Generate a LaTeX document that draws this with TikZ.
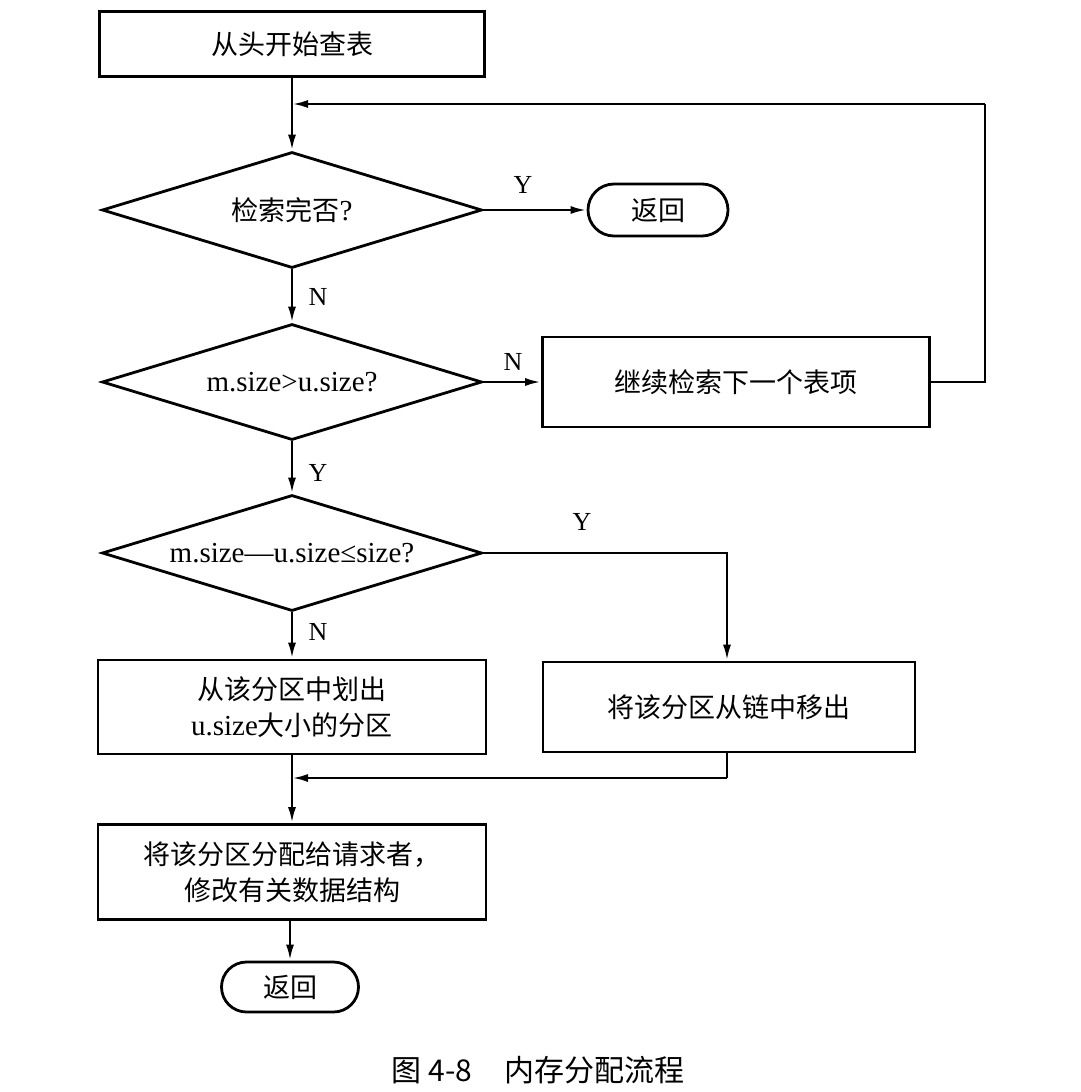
\documentclass[tikz,border=0pt]{standalone}
\usepackage{fontspec}
\setmainfont{Liberation Serif}
\newfontfamily\cjk{Noto Sans CJK SC}
\newcommand{\lat}[1]{{\fontsize{29}{34}\selectfont #1}}
\usetikzlibrary{shapes.geometric,shapes.misc,arrows.meta}
\begin{document}
\begin{tikzpicture}[x=1pt,y=-1pt,
  every node/.style={font=\fontsize{27}{36}\selectfont},
  box/.style={draw,line width=2.8pt,rectangle,align=center,inner sep=0pt},
  dia/.style={draw,line width=2.8pt,diamond,aspect=3.3,inner sep=0pt,minimum width=380pt,minimum height=116pt},
  term/.style={draw,line width=2.8pt,rounded rectangle,inner sep=0pt},
  lbl/.style={font=\fontsize{26}{30}\selectfont},
  flow/.style={line width=2.6pt,-{Latex[length=16pt,width=8pt]}},
  seg/.style={line width=2.6pt}]
\useasboundingbox (0,0) rectangle (1080,1092);
\fill[white] (0,0) rectangle (1080,1092);
\node[box,minimum width=385pt,minimum height=65pt] (start) at (292,44) {\cjk 从头开始查表};
\node[dia] (d1) at (292,210) {{\cjk 检索完否}\lat{?}};
\node[term,minimum width=140pt,minimum height=52pt] (ret1) at (658,210) {\cjk 返回};
\node[dia] (d2) at (292,382) {\lat{m.size>u.size?}};
\node[box,minimum width=387pt,minimum height=90pt] (cont) at (736,382) {\cjk 继续检索下一个表项};
\node[dia] (d3) at (292,553) {\lat{m.size—u.size≤size?}};
\node[box,minimum width=388pt,minimum height=94pt] (cut) at (292,707) {{\cjk 从该分区中划出}\\\lat{u.size}{\cjk 大小的分区}};
\node[box,minimum width=372pt,minimum height=90pt] (remove) at (729,707) {\cjk 将该分区从链中移出};
\node[box,minimum width=388pt,minimum height=95pt] (assign) at (292,872) {{\cjk 将该分区分配给请求者，}\\{\cjk 修改有关数据结构}};
\node[term,minimum width=137pt,minimum height=50pt] (ret2) at (290,987) {\cjk 返回};
\node[font=\fontsize{30}{36}\selectfont] (cap) at (538,1070) {\cjk 图 4-8\hspace{32pt}内存分配流程};
% labels
\node[lbl] (y1) at (523,185) {Y};
\node[lbl] (n1) at (318,297) {N};
\node[lbl] (n2) at (513,362) {N};
\node[lbl] (y2) at (318,473) {Y};
\node[lbl] (y3) at (582,522) {Y};
\node[lbl] (n3) at (318,632) {N};
% coordinates
\coordinate (fb) at (292,104);
\coordinate (fbr) at (985,104);
\coordinate (d3r) at (727,0);
\coordinate (mg) at (292,778);
\coordinate (mgr) at (727,778);
% connectors
\draw[flow] (start.south) -- (d1.north);
\draw[flow] (d1.east) -- (ret1.west);
\draw[flow] (d1.south) -- (d2.north);
\draw[flow] (d2.east) -- (cont.west);
\draw[seg] (cont.east) -- (cont.east -| fbr) -- (fbr);
\draw[flow] (fbr) -- (fb);
\draw[flow] (d2.south) -- (d3.north);
\draw[flow] (d3.east) -- (d3.east -| d3r) -- (d3r |- remove.north);
\draw[flow] (d3.south) -- (cut.north);
\draw[seg] (remove.south -| mgr) -- (mgr);
\draw[flow] (mgr) -- (mg);
\draw[flow] (cut.south) -- (assign.north);
\draw[flow] (assign.south -| ret2.north) -- (ret2.north);
\end{tikzpicture}
\end{document}
